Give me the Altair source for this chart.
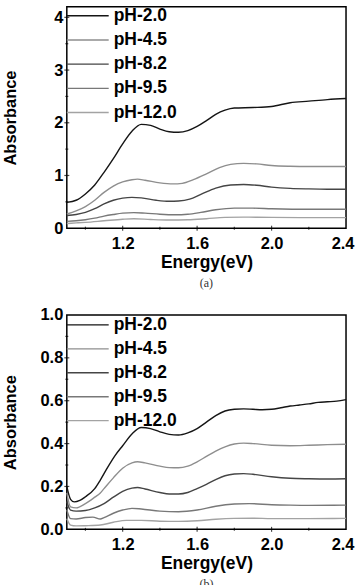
import altair as alt
import pandas as pd

SERIES = ["pH-2.0", "pH-4.5", "pH-8.2", "pH-9.5", "pH-12.0"]
COLORS = ["#151515", "#8e8e8e", "#454545", "#787878", "#a3a3a3"]

# ---- panel (a) spectra ----
a_e_20 = [0.90, 0.95, 1.00, 1.05, 1.10, 1.15, 1.20, 1.25, 1.30, 1.35, 1.40, 1.45, 1.50,
          1.55, 1.60, 1.65, 1.70, 1.75, 1.80, 1.90, 2.00, 2.10, 2.20, 2.30, 2.40]
a_v_20 = [0.49, 0.53, 0.65, 0.82, 1.06, 1.32, 1.60, 1.84, 1.97, 1.95, 1.88, 1.83, 1.82,
          1.85, 1.93, 2.04, 2.16, 2.24, 2.28, 2.29, 2.31, 2.38, 2.41, 2.44, 2.46]

a_e_45 = [0.90, 0.95, 1.00, 1.05, 1.10, 1.15, 1.20, 1.25, 1.28, 1.32, 1.40, 1.47, 1.52,
          1.58, 1.65, 1.72, 1.78, 1.85, 1.92, 2.00, 2.10, 2.20, 2.30, 2.40]
a_v_45 = [0.27, 0.33, 0.41, 0.53, 0.68, 0.80, 0.88, 0.92, 0.93, 0.91, 0.86, 0.84, 0.85,
          0.92, 1.03, 1.15, 1.21, 1.23, 1.22, 1.19, 1.175, 1.17, 1.17, 1.17]

a_e_82 = [0.90, 0.95, 1.00, 1.05, 1.10, 1.15, 1.20, 1.25, 1.30, 1.38, 1.45, 1.50, 1.56,
          1.62, 1.70, 1.78, 1.85, 1.92, 2.00, 2.10, 2.20, 2.30, 2.40]
a_v_82 = [0.24, 0.26, 0.30, 0.37, 0.46, 0.53, 0.57, 0.585, 0.575, 0.53, 0.51, 0.515, 0.55,
          0.64, 0.76, 0.82, 0.83, 0.815, 0.78, 0.755, 0.745, 0.74, 0.74]

a_e_95 = [0.90, 0.95, 1.00, 1.05, 1.10, 1.15, 1.20, 1.26, 1.32, 1.40, 1.48, 1.55, 1.62,
          1.70, 1.80, 1.90, 2.00, 2.20, 2.40]
a_v_95 = [0.13, 0.14, 0.16, 0.19, 0.23, 0.26, 0.285, 0.295, 0.285, 0.265, 0.255, 0.265, 0.30,
          0.35, 0.38, 0.38, 0.37, 0.36, 0.36]

a_e_120 = [0.90, 0.95, 1.00, 1.10, 1.20, 1.26, 1.35, 1.45, 1.55, 1.65, 1.75, 1.85, 2.00,
           2.20, 2.40]
a_v_120 = [0.09, 0.10, 0.11, 0.14, 0.17, 0.18, 0.165, 0.155, 0.16, 0.18, 0.205, 0.21, 0.205,
           0.20, 0.20]

# ---- panel (b) spectra ----
b_e_20 = [0.90, 0.92, 0.94, 0.97, 1.00, 1.05, 1.08, 1.12, 1.16, 1.20, 1.25, 1.30, 1.35,
          1.40, 1.45, 1.50, 1.55, 1.60, 1.65, 1.70, 1.75, 1.80, 1.85, 1.90, 1.95, 2.00,
          2.05, 2.10, 2.15, 2.20, 2.25, 2.30, 2.35, 2.40]
b_v_20 = [0.20, 0.14, 0.128, 0.135, 0.152, 0.19, 0.23, 0.29, 0.345, 0.39, 0.445, 0.475, 0.47,
          0.455, 0.443, 0.44, 0.45, 0.47, 0.50, 0.53, 0.552, 0.56, 0.562, 0.56, 0.558, 0.56,
          0.567, 0.575, 0.58, 0.585, 0.592, 0.595, 0.598, 0.605]

b_e_45 = [0.90, 0.92, 0.95, 1.00, 1.05, 1.08, 1.10, 1.15, 1.20, 1.25, 1.28, 1.32, 1.40,
          1.45, 1.50, 1.55, 1.60, 1.65, 1.70, 1.75, 1.80, 1.85, 1.90, 2.00, 2.10, 2.20,
          2.30, 2.40]
b_v_45 = [0.17, 0.105, 0.10, 0.12, 0.15, 0.17, 0.19, 0.24, 0.285, 0.31, 0.315, 0.31, 0.295,
          0.288, 0.287, 0.295, 0.315, 0.34, 0.365, 0.385, 0.398, 0.402, 0.40, 0.392, 0.39,
          0.392, 0.395, 0.397]

b_e_82 = [0.90, 0.92, 0.95, 1.00, 1.05, 1.10, 1.15, 1.20, 1.25, 1.28, 1.32, 1.40, 1.45,
          1.50, 1.55, 1.60, 1.65, 1.70, 1.75, 1.80, 1.85, 1.90, 2.00, 2.10, 2.20, 2.30, 2.40]
b_v_82 = [0.13, 0.09, 0.085, 0.088, 0.10, 0.12, 0.15, 0.177, 0.192, 0.195, 0.188, 0.172,
          0.165, 0.165, 0.172, 0.19, 0.21, 0.232, 0.25, 0.258, 0.26, 0.257, 0.245, 0.238,
          0.236, 0.235, 0.236]

b_e_95 = [0.90, 0.92, 0.95, 1.00, 1.04, 1.08, 1.10, 1.15, 1.20, 1.25, 1.30, 1.40, 1.50,
          1.60, 1.70, 1.80, 1.88, 2.00, 2.10, 2.20, 2.40]
b_v_95 = [0.09, 0.05, 0.048, 0.055, 0.057, 0.048, 0.055, 0.075, 0.09, 0.098, 0.095, 0.085,
          0.082, 0.09, 0.108, 0.118, 0.12, 0.115, 0.113, 0.112, 0.113]

b_e_120 = [0.90, 0.92, 0.95, 1.00, 1.08, 1.15, 1.22, 1.30, 1.40, 1.50, 1.60, 1.70, 1.80,
           1.90, 2.00, 2.20, 2.40]
b_v_120 = [0.05, 0.02, 0.016, 0.017, 0.02, 0.033, 0.042, 0.042, 0.038, 0.037, 0.04, 0.047,
           0.051, 0.052, 0.05, 0.05, 0.051]

# axis ticks
x_labels = [1.2, 1.6, 2.0, 2.4]
x_major = [1.2, 1.6, 2.0]
x_minor = [1.0, 1.4, 1.8, 2.2]
a_y_labels = [0, 1, 2, 3, 4]
a_y_major = [1, 2, 3, 4]
a_y_minor = [0.5, 1.5, 2.5, 3.5]
b_y_labels = [0.0, 0.2, 0.4, 0.6, 0.8, 1.0]
b_y_major = [0.2, 0.4, 0.6, 0.8]
b_y_minor = [0.1, 0.3, 0.5, 0.7, 0.9]

FONT = "Liberation Sans"
W = 280


def long_table(pairs):
    rows = []
    for name, (es, vs) in zip(SERIES, pairs):
        for e, v in zip(es, vs):
            rows.append({"series": name, "energy": e, "absorbance": v})
    return pd.DataFrame(rows)


def tick_table(values, length):
    return pd.DataFrame({"energy": values, "absorbance": values, "len": [length] * len(values)})


def panel(pairs, ydom, ylabels, yfmt, ymaj, ymin, height, caption, legend_range):
    df = long_table(pairs)
    xs = alt.Scale(domain=[0.9, 2.4], nice=False, zero=False)
    ys = alt.Scale(domain=ydom, nice=False, zero=False)
    # the last x label is kept inside the page edge
    xaxis = alt.Axis(values=x_labels, format=".1f", labelPadding=7, titlePadding=2,
                     labelFlush=True, labelFlushOffset=8)
    yaxis = alt.Axis(values=ylabels, format=yfmt, labelPadding=4, labelFlush=False,
                     titleX=-56, titleY=height / 2, titleBaseline="middle")
    color = alt.Color("series:N", scale=alt.Scale(domain=SERIES, range=COLORS), legend=None)

    lines = alt.Chart(df).mark_line(strokeWidth=1.4, interpolate="monotone").encode(
        x=alt.X("energy:Q", scale=xs, title="Energy(eV)", axis=xaxis),
        y=alt.Y("absorbance:Q", scale=ys, title="Absorbance", axis=yaxis),
        color=color,
    )

    xt = pd.concat([tick_table(x_major, 5), tick_table(x_minor, 3)])
    yt = pd.concat([tick_table(ymaj, 5), tick_table(ymin, 3)])

    # inward-pointing ticks along the bottom and left frame edges
    xticks = alt.Chart(xt).mark_tick(orient="vertical", thickness=1.2, color="black").encode(
        x=alt.X("energy:Q", scale=xs, title="Energy(eV)", axis=xaxis),
        y=alt.YValue(height),
        size=alt.Size("len:Q", scale=None),
    )
    yticks = alt.Chart(yt).mark_tick(orient="horizontal", thickness=1.2, color="black").encode(
        y=alt.Y("absorbance:Q", scale=ys, title="Absorbance", axis=yaxis),
        x=alt.XValue(0),
        size=alt.Size("len:Q", scale=None),
    )

    inner = alt.layer(lines, xticks, yticks)

    leg_df = pd.DataFrame({"series": SERIES})
    ly = alt.Y("series:N", sort=SERIES, axis=None,
               scale=alt.Scale(type="point", range=legend_range, padding=0))
    leg_rule = alt.Chart(leg_df).mark_rule(strokeWidth=1.4).encode(
        x=alt.value(0), x2=alt.value(42), y=ly, color=color)
    leg_text = alt.Chart(leg_df).mark_text(
        align="left", baseline="middle", font=FONT, fontSize=17.5, fontWeight="bold",
        color="black").encode(x=alt.value(47), y=ly, text="series:N")
    legend = alt.layer(leg_rule, leg_text)

    return alt.layer(inner, legend).resolve_scale(y="independent").properties(
        width=W, height=height,
        title=alt.TitleParams(caption, orient="bottom", font="Liberation Serif",
                              fontSize=12, fontWeight="normal", color="#333333",
                              offset=7),
    )


top = panel(
    [(a_e_20, a_v_20), (a_e_45, a_v_45), (a_e_82, a_v_82), (a_e_95, a_v_95), (a_e_120, a_v_120)],
    [0, 4.2], a_y_labels, "d", a_y_major, a_y_minor, 222, "(a)", [9, 106],
)
bottom = panel(
    [(b_e_20, b_v_20), (b_e_45, b_v_45), (b_e_82, b_v_82), (b_e_95, b_v_95), (b_e_120, b_v_120)],
    [0, 1.0], b_y_labels, ".1f", b_y_major, b_y_minor, 215, "(b)", [10, 106],
)

chart = alt.vconcat(top, bottom, spacing=16).properties(
    padding={"left": 2, "top": 5, "right": 0, "bottom": 0},
    background="white",
).configure_view(
    stroke="black", strokeWidth=1.5,
).configure_axis(
    domain=False, ticks=False, tickSize=0, grid=False,
    labelFont=FONT, labelFontSize=16.5, labelFontWeight="bold", labelColor="black",
    titleFont=FONT, titleFontSize=17.5, titleFontWeight="bold", titleColor="black",
).configure_axisY(
    titleFontSize=16.5,
)

chart.save("out.html", embed_options={"renderer": "svg", "actions": False})
